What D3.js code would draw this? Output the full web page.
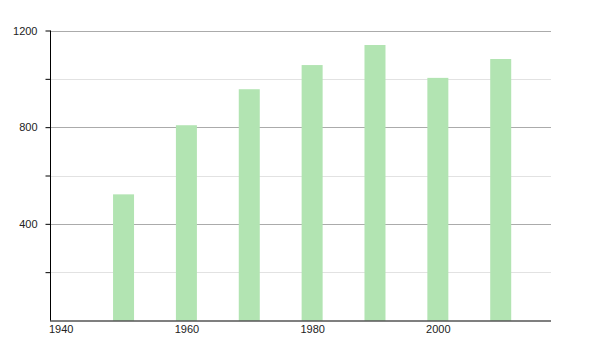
<!DOCTYPE html>
<html>
<head>
<meta charset="utf-8">
<script src="https://cdn.jsdelivr.net/npm/d3@7"></script>
<style>
  body { margin: 0; background: #fff; }
  text { font-family: "Liberation Sans", Arial, sans-serif; font-size: 11px; fill: #222; }
</style>
</head>
<body>
<div id="chart"></div>
<script>
let width = 600,
    height = 350;

const years = [1950, 1960, 1970, 1980, 1990, 2000, 2010];
const values = [522, 808, 957, 1057, 1140, 1004, 1082];
const majorTicks = [400, 800, 1200];
const minorTicks = [200, 600, 1000];
const xTicks = [1940, 1960, 1980, 2000];

const mLeft = 50, mRight = 551, mTop = 30.5, mBottom = 320.5;

const x = d3.scaleLinear().domain([1938.3, 2018]).range([mLeft, mRight]);
const y = d3.scaleLinear().domain([0, 1200]).range([mBottom, mTop]);

let svg = d3.select("#chart")
  .append("svg")
  .attr("width", width)
  .attr("height", height);

// grid lines
svg.selectAll("line.minor")
  .data(minorTicks)
  .enter()
  .append("line")
  .attr("x1", mLeft).attr("x2", mRight)
  .attr("y1", d => Math.round(y(d)) + 0.5)
  .attr("y2", d => Math.round(y(d)) + 0.5)
  .style("stroke", "#e2e2e2");

svg.selectAll("line.major")
  .data(majorTicks)
  .enter()
  .append("line")
  .attr("x1", mLeft).attr("x2", mRight)
  .attr("y1", d => Math.round(y(d)) + 0.5)
  .attr("y2", d => Math.round(y(d)) + 0.5)
  .style("stroke", "#ababab");

// bars
let barW = 21;
svg.selectAll("rect")
  .data(years)
  .enter()
  .append("rect")
  .attr("x", d => x(d) - barW / 2)
  .attr("y", (d, i) => y(values[i]))
  .attr("width", barW)
  .attr("height", (d, i) => y(0) - y(values[i]))
  .style("fill", "#b2e4b2");

// y axis
let yAxis = svg.append("g")
  .attr("transform", "translate(" + (mLeft + 0.5) + ",0)")
  .call(d3.axisLeft(y)
    .tickValues(majorTicks.concat(minorTicks))
    .tickSize(5)
    .tickSizeOuter(0)
    .tickFormat(d => majorTicks.includes(d) ? d : ""));
yAxis.select(".domain").attr("d", "M0," + mTop + "V" + mBottom);
yAxis.selectAll("line").style("stroke", "#000");
yAxis.selectAll("text").attr("x", -13).style("font-size", "11px").style("font-family", "Liberation Sans, Arial, sans-serif").style("fill", "#222");

// x axis
let xAxis = svg.append("g")
  .attr("transform", "translate(0," + (mBottom) + ")")
  .call(d3.axisBottom(x)
    .tickValues(xTicks)
    .tickSize(0)
    .tickSizeOuter(0)
    .tickFormat(d3.format("d")));
xAxis.select(".domain").attr("d", "M" + mLeft + ",0.5H" + mRight).style("stroke", "#000").style("stroke-width", 1.2);
xAxis.selectAll("text").attr("y", 5).style("font-size", "11px").style("font-family", "Liberation Sans, Arial, sans-serif").style("fill", "#222");
</script>
</body>
</html>
